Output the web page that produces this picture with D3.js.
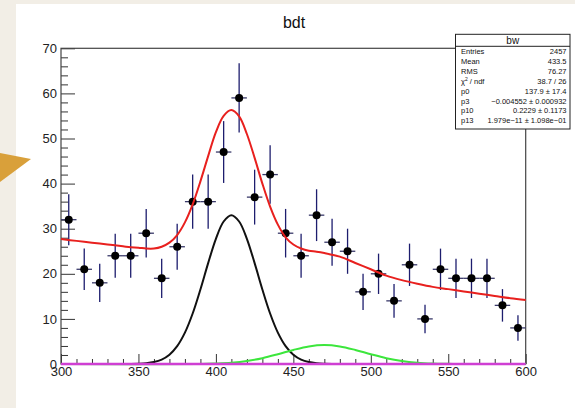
<!DOCTYPE html>
<html><head><meta charset="utf-8">
<script src="https://cdn.jsdelivr.net/npm/d3@7"></script>
<style>
html,body{margin:0;padding:0;background:#f2eee6;}
svg{display:block;font-family:"Liberation Sans",Arial,Helvetica,sans-serif;}
</style></head>
<body><svg id="c" width="575" height="408"></svg>
<script>
// ---- data ----
const binCenters = [305,315,325,335,345,355,365,375,385,395,405,415,425,435,445,455,465,475,485,495,505,515,525,535,545,555,565,575,585,595];
const counts     = [32,21,18,24,24,29,19,26,36,36,47,59,37,42,29,24,33,27,25,16,20,14,22,10,21,19,19,19,13,8];
const binHalfWidth = 5;

// fit curves
const totalX = [300,310,320,330,340,345,350,355,360,365,370,375,380,385,390,395,400,405,410,415,420,425,430,435,440,445,450,455,460,465,470,480,490,500,510,520,530,540,550,560,570,580,590,600];
const totalY = [27.7,27.3,26.9,26.5,26.1,25.9,25.8,25.6,25.6,26.0,26.9,28.6,31.4,35.4,40.5,46.1,51.4,55.0,56.3,54.9,51.0,45.7,40.0,34.9,30.9,28.1,26.5,25.6,25.1,24.9,24.6,23.8,22.4,21.0,19.6,18.6,17.8,17.1,16.6,16.1,15.6,15.1,14.6,14.2];
const sigX = [300,340,345,350,355,360,365,370,375,380,385,390,395,400,405,410,415,420,425,430,435,440,445,450,455,460,465,470,475,480,520,600];
const sigY = [0,0,0.02,0.07,0.18,0.44,0.99,2.07,3.96,6.95,11.19,16.52,22.36,27.76,31.6,33.0,31.6,27.76,22.36,16.52,11.19,6.95,3.96,2.07,0.99,0.44,0.18,0.07,0.02,0,0,0];
const sig2X = [300,390,400,410,420,430,440,450,460,470,480,490,500,510,520,530,540,550,560,600];
const sig2Y = [0,0,0.11,0.29,0.66,1.29,2.16,3.12,3.90,4.2,3.90,3.12,2.16,1.29,0.66,0.29,0.11,0.04,0,0];
const flatX = [300,600];
const flatY = [0,0];

const xTicks = [300,350,400,450,500,550,600];
const yTicks = [0,10,20,30,40,50,60,70];

const title = "bdt";
const statsTitle = "bw";
const statsLabels = ["Entries","Mean","RMS","χ2 / ndf","p0","p3","p10","p13"];
const statsValues = ["2457","433.5","76.27","38.7 / 26","137.9 ± 17.4","−0.004552 ± 0.000932","0.2229 ± 0.1173","1.979e−11 ± 1.098e−01"];

// ---- drawing ----
const svg = d3.select("#c");
// white canvas and decoration
svg.append("rect").attr("x",16).attr("y",4).attr("width",559).attr("height",404).attr("fill","#ffffff");
svg.append("polygon").attr("points","0,153 31,159 0,182").attr("fill","#d9a03a");

const x = d3.scaleLinear().domain([300,600]).range([61,525.7]);
const y = d3.scaleLinear().domain([0,70]).range([364,48.3]);

// title
svg.append("text").attr("x",294).attr("y",28).attr("text-anchor","middle")
  .attr("font-size",16).attr("fill","#111").text(title);

// axes
const fontSize = 13;
const gx = svg.append("g").attr("transform",`translate(0,${y(0)})`)
  .call(d3.axisBottom(x).tickValues(xTicks).tickSize(-10).tickPadding(3).tickFormat(d3.format("d")));
const gxm = svg.append("g").attr("transform",`translate(0,${y(0)})`)
  .call(d3.axisBottom(x).tickValues(d3.range(300,601,10).filter(v=>v%50)).tickSize(-5).tickFormat(""));
const gy = svg.append("g").attr("transform",`translate(${x(300)},0)`)
  .call(d3.axisLeft(y).tickValues(yTicks).tickSize(-14).tickPadding(4).tickFormat(d3.format("d")));
const gym = svg.append("g").attr("transform",`translate(${x(300)},0)`)
  .call(d3.axisLeft(y).tickValues(d3.range(0,71,2).filter(v=>v%10)).tickSize(-7).tickFormat(""));
[gx,gxm,gy,gym].forEach(g=>{
  g.select(".domain").remove();
  g.selectAll("line").attr("stroke","#333").attr("stroke-width",1);
  g.selectAll("text").attr("font-size",fontSize).attr("fill","#222")
   .attr("font-family","'Liberation Sans',Arial,Helvetica,sans-serif");
});

// frame
svg.append("rect").attr("x",x(300)).attr("y",y(70)).attr("width",x(600)-x(300)).attr("height",y(0)-y(70))
  .attr("fill","none").attr("stroke","#444").attr("stroke-width",1.2);

// data points
const pts = svg.append("g");
binCenters.forEach((c,i)=>{
  const v = counts[i], e = Math.sqrt(v);
  pts.append("line").attr("x1",x(c)).attr("x2",x(c)).attr("y1",y(v-e)).attr("y2",y(v+e))
    .attr("stroke","#1d1d6e").attr("stroke-width",1.3);
  pts.append("line").attr("x1",x(c-binHalfWidth)).attr("x2",x(c+binHalfWidth)).attr("y1",y(v)).attr("y2",y(v))
    .attr("stroke","#3a3a6a").attr("stroke-width",1.3);
  pts.append("circle").attr("cx",x(c)).attr("cy",y(v)).attr("r",4).attr("fill","#000");
});

// curves
const line = d3.line().x(d=>x(d[0])).y(d=>y(d[1])).curve(d3.curveCatmullRom.alpha(0.5));
function curve(xs,ys,color,w){
  svg.append("path").attr("d",line(xs.map((v,i)=>[v,ys[i]])))
    .attr("fill","none").attr("stroke",color).attr("stroke-width",w).attr("stroke-linejoin","round");
}
curve(sigX,sigY,"#111111",2);
curve(sig2X,sig2Y,"#3ce63c",2);
curve(totalX,totalY,"#e8201e",2);
curve(flatX,flatY,"#cf3fd3",2.5);

// stats box
const bx=455.5, by=34.3, bw=114.5, bh=94.7;
const sb = svg.append("g");
sb.append("rect").attr("x",bx).attr("y",by).attr("width",bw).attr("height",bh)
  .attr("fill","#fff").attr("stroke","#222").attr("stroke-width",1);
sb.append("line").attr("x1",bx).attr("x2",bx+bw).attr("y1",46.3).attr("y2",46.3).attr("stroke","#222").attr("stroke-width",1);
sb.append("text").attr("x",bx+bw/2).attr("y",44).attr("text-anchor","middle").attr("font-size",10).attr("fill","#111").text(statsTitle);
statsLabels.forEach((l,i)=>{
  const yy = 54.3 + i*9.85;
  const t = sb.append("text").attr("x",461).attr("y",yy).attr("font-size",7.5).attr("fill","#111");
  if(l.startsWith("χ2")){
    t.append("tspan").text("χ");
    t.append("tspan").attr("dy",-3).attr("font-size",5).text("2");
    t.append("tspan").attr("dy",3).text(" / ndf");
  } else t.text(l);
  sb.append("text").attr("x",566.5).attr("y",yy).attr("text-anchor","end").attr("font-size",7.5).attr("fill","#111").text(statsValues[i]);
});
</script></body></html>
